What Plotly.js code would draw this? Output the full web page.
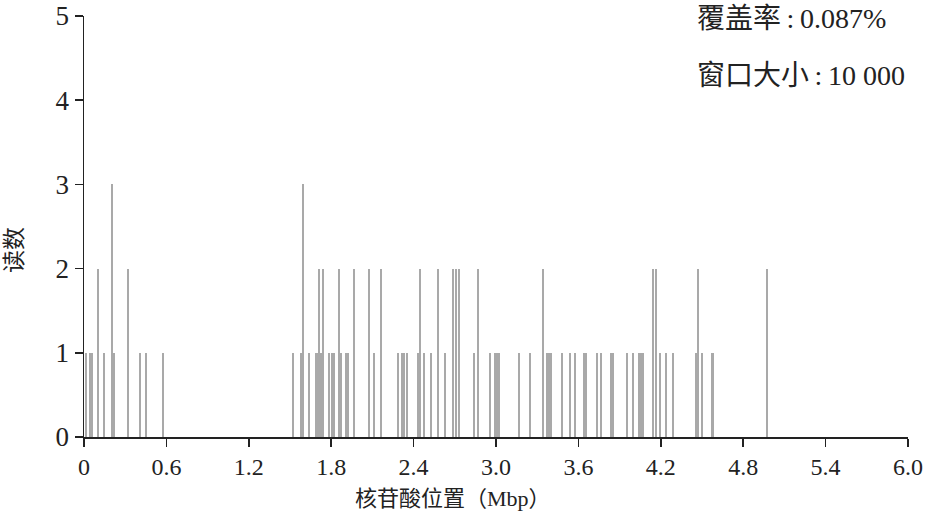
<!DOCTYPE html>
<html>
<head>
<meta charset="utf-8">
<script src="https://cdn.plot.ly/plotly-3.0.1.min.js"></script>
<style>html,body{margin:0;padding:0;background:#fff;}#chart{width:944px;height:519px;}</style>
</head>
<body>
<div id="chart"></div>
<script>
// Window start positions (Mbp) with non-zero read counts
const positionsMbp = [
  0.012, 0.044, 0.058, 0.104, 0.146, 0.204, 0.221, 0.318, 0.406, 0.449, 0.575,
  1.520, 1.580, 1.595, 1.641, 1.687, 1.702, 1.709, 1.724, 1.738, 1.786, 1.806, 1.823,
  1.859, 1.871, 1.908, 1.920, 1.968, 2.078, 2.109, 2.160, 2.289, 2.318, 2.332, 2.350,
  2.430, 2.449, 2.478, 2.529, 2.578, 2.631, 2.689, 2.706, 2.733,
  2.840, 2.867, 2.956, 2.995, 3.005, 3.022, 3.170, 3.248, 3.340, 3.369, 3.384, 3.398,
  3.481, 3.539, 3.578, 3.641, 3.656, 3.738, 3.767, 3.840, 3.854, 3.952, 3.998,
  4.039, 4.054, 4.068, 4.146, 4.165, 4.192, 4.238, 4.287, 4.456, 4.471, 4.500,
  4.573, 4.582, 4.971
];
const readCounts = [
  1, 1, 1, 2, 1, 3, 1, 2, 1, 1, 1,
  1, 1, 3, 1, 1, 1, 2, 1, 2, 1, 1, 1,
  2, 1, 1, 1, 2, 2, 1, 2, 1, 1, 1, 1,
  1, 2, 1, 1, 2, 1, 2, 2, 2,
  1, 2, 1, 1, 1, 1, 1, 1, 2, 1, 1, 1,
  1, 1, 1, 1, 1, 1, 1, 1, 1, 1, 1,
  1, 1, 1, 2, 2, 1, 1, 1, 1, 2, 1,
  1, 1, 2
];
const xTickVals = [0, 0.6, 1.2, 1.8, 2.4, 3.0, 3.6, 4.2, 4.8, 5.4, 6.0];
const xTickText = ['0', '0.6', '1.2', '1.8', '2.4', '3.0', '3.6', '4.2', '4.8', '5.4', '6.0'];
const yTickVals = [0, 1, 2, 3, 4, 5];
const xTitle = '核苷酸位置（Mbp）';
const yTitle = '读数';
const coverageText = '覆盖率\u2009:\u20090.087%';
const windowText = '窗口大小\u2009:\u200910 000';

const serif = '"Liberation Serif", "Noto Sans CJK SC", serif';

const trace = {
  type: 'bar',
  x: positionsMbp,
  y: readCounts,
  width: 0.013,
  marker: {color: '#a9a9a9', line: {width: 0}},
  hoverinfo: 'x+y'
};

const layout = {
  width: 944, height: 519,
  margin: {l: 84, r: 36, t: 16, b: 82},
  paper_bgcolor: '#ffffff', plot_bgcolor: '#ffffff',
  showlegend: false,
  bargap: 0,
  font: {family: serif, color: '#222'},
  xaxis: {
    range: [0, 6], tickvals: xTickVals, ticktext: xTickText,
    showline: true, linecolor: '#222', linewidth: 1.5,
    ticks: 'outside', ticklen: 8, tickcolor: '#222', tickwidth: 1.5,
    showgrid: false, zeroline: false,
    tickfont: {family: serif, size: 24, color: '#222'}
  },
  yaxis: {
    range: [0, 5], tickvals: yTickVals,
    showline: true, linecolor: '#222', linewidth: 1.5,
    ticks: 'outside', ticklen: 8, tickcolor: '#222', tickwidth: 1.5,
    showgrid: false, zeroline: false,
    tickfont: {family: serif, size: 27, color: '#222'}
  },
  annotations: [
    {text: xTitle, xref: 'paper', yref: 'paper', x: 0.448, y: -0.145,
     xanchor: 'center', yanchor: 'middle', showarrow: false,
     font: {family: serif, size: 22, color: '#222'}},
    {text: yTitle, xref: 'paper', yref: 'paper', x: -0.085, y: 0.444,
     xanchor: 'center', yanchor: 'middle', showarrow: false, textangle: -90,
     font: {family: serif, size: 23, color: '#222'}},
    {text: coverageText, xref: 'paper', yref: 'paper', x: 0.742, y: 1.035,
     xanchor: 'left', yanchor: 'top', showarrow: false,
     font: {family: serif, size: 28, color: '#222'}},
    {text: windowText, xref: 'paper', yref: 'paper', x: 0.742, y: 0.900,
     xanchor: 'left', yanchor: 'top', showarrow: false,
     font: {family: serif, size: 28, color: '#222'}}
  ]
};

Plotly.newPlot('chart', [trace], layout, {displayModeBar: false, staticPlot: true});
</script>
</body>
</html>
